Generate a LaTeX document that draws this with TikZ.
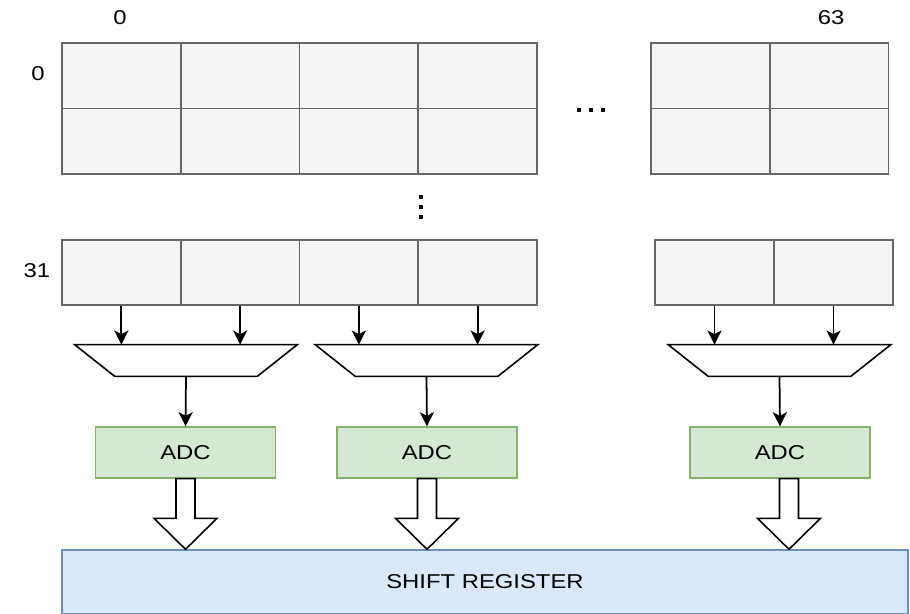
\documentclass[tikz,border=0pt]{standalone}
\usepackage{fontspec}
\setmainfont[FakeStretch=1.19]{Liberation Sans}
\usetikzlibrary{arrows.meta}
\definecolor{cellfill}{HTML}{F5F5F5}
\definecolor{cellline}{HTML}{666666}
\definecolor{adcfill}{HTML}{D5E8D4}
\definecolor{adcline}{HTML}{82B366}
\definecolor{regfill}{HTML}{DAE8FC}
\definecolor{regline}{HTML}{6C8EBF}
% wide hollow arrow from an ADC down to the register
\newcommand\busarrow[2]{%
  \path (#1 |- #2.north) coordinate (tip);
  \draw[bus] ([xshift=-0.19cm]#1) -- ([xshift=-0.19cm,yshift=0.62cm]tip)
    -- ([xshift=-0.63cm,yshift=0.62cm]tip) -- (tip)
    -- ([xshift=0.63cm,yshift=0.62cm]tip) -- ([xshift=0.19cm,yshift=0.62cm]tip)
    -- ([xshift=0.19cm]#1) -- cycle;}
\tikzset{
	cell/.style={rectangle,fill=cellfill,draw=cellline,line width=1pt,inner sep=0pt,minimum width=2.375cm,minimum height=1.31cm},
	cellb/.style={cell,minimum height=1.3cm},
	mux/.style={rectangle,inner sep=0pt,minimum width=4.44cm,minimum height=0.62cm},
	muxline/.style={draw=black,line width=0.9pt,line join=miter},
	adc/.style={rectangle,fill=adcfill,draw=adcline,line width=0.8pt,inner sep=0pt,minimum width=3.6cm,minimum height=1.02cm,font=\fontsize{11.4}{13}\selectfont},
	reg/.style={rectangle,fill=regfill,draw=regline,line width=0.8pt,inner sep=0pt,minimum width=16.92cm,minimum height=1.28cm,font=\fontsize{11.4}{13}\selectfont},
	idx/.style={inner sep=0pt,font=\fontsize{11.4}{13}\selectfont},
	wire/.style={->,line width=1pt},
	bus/.style={fill=white,draw=black,line width=0.9pt,line join=miter},
	>={Stealth[length=8pt,width=8pt,inset=2pt]},
	}

\begin{document}
\begin{tikzpicture}[x=0.02cm,y=-0.02cm]
\useasboundingbox (0,0) rectangle (910,614);

% pixel rows 0 and 1, left part and right part
\foreach \r/\y in {1/75.75,2/141.25}{
  \foreach \c in {1,...,4}
    \node[cell] (t\r\c) at (62+118.75*\c-59.375,\y) {};
  \foreach \c/\x in {1/710.25,2/829.25}
    \node[cell,minimum width=2.37cm] (tr\r\c) at (\x,\y) {};
}
% last pixel row
\foreach \c in {1,...,4}
  \node[cellb] (m\c) at (62+118.75*\c-59.375,272.5) {};
\foreach \c/\x in {1/714.5,2/833.5}
  \node[cellb,minimum width=2.37cm] (mr\c) at (\x,272.5) {};

\node[idx] (col0) at (120,18) {0};
\node[idx] (col63) at (831,18) {63};
\node[idx] (row0) at (38,74) {0};
\node[idx] (row31) at (37,271) {31};

% continuation dots
\foreach \x in {579,591,603}
  \fill (\x-2,108) rectangle (\x+2,112);
\foreach \y in {197,207,217}
  \fill (419,\y-2) rectangle (423,\y+2);

% column multiplexers
\node[mux] (mux1) at (186,360.5) {};
\node[mux] (mux2) at (426.5,360.5) {};
\node[mux] (mux3) at (779.5,360.5) {};
\foreach \m in {mux1,mux2,mux3}
  \draw[muxline] (\m.north west) -- (\m.north east) -- ([xshift=-0.8cm]\m.south east)
    -- ([xshift=0.8cm]\m.south west) -- cycle;

\node[adc] (adc1) at (185.5,452.5) {ADC};
\node[adc] (adc2) at (427,452.5) {ADC};
\node[adc] (adc3) at (780,452.5) {ADC};

\node[reg] (reg) at (485,582) {SHIFT REGISTER};

\draw[wire] (m1.south) -- (m1.south |- mux1.north);
\draw[wire] (m2.south) -- (m2.south |- mux1.north);
\draw[wire] (m3.south) -- (m3.south |- mux2.north);
\draw[wire] (m4.south) -- (m4.south |- mux2.north);
\draw[wire] (mr1.south) -- (mr1.south |- mux3.north);
\draw[wire] (mr2.south) -- (mr2.south |- mux3.north);

\draw[wire] (mux1.south) -- (adc1.north);
\draw[wire] (mux2.south) -- (adc2.north);
\draw[wire] (mux3.south) -- (adc3.north);

\busarrow{adc1.south}{reg}
\busarrow{adc2.south}{reg}
\coordinate (out3) at ([xshift=0.18cm]adc3.south);
\busarrow{out3}{reg}
\end{tikzpicture}
\end{document}
